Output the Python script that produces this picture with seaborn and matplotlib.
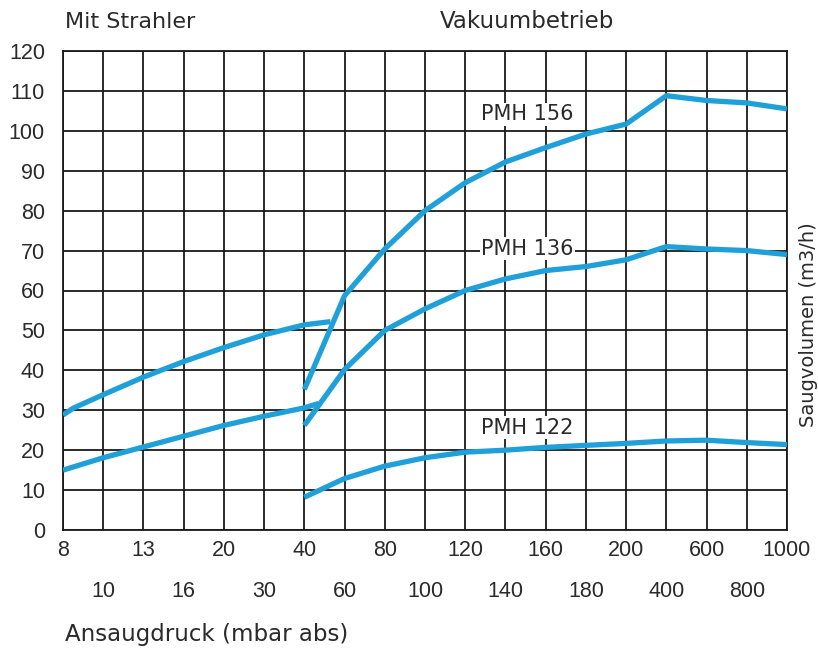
import matplotlib
matplotlib.use("Agg")
import matplotlib.pyplot as plt
import numpy as np
import pandas as pd
import seaborn as sns

# Druckstufen auf der x-Achse (gleichmaessig verteilt, nicht log)
druck_stufen = [8, 10, 13, 16, 20, 30, 40, 60, 80, 100, 120, 140, 160, 180, 200, 400, 600, 800, 1000]
druck_oben = [8, 13, 20, 40, 80, 120, 160, 200, 600, 1000]
druck_unten = [10, 16, 30, 60, 100, 140, 180, 400, 800]
y_ticks = list(range(0, 130, 10))

# Mit Strahler
strahler_druck_156 = [8, 8.5, 10, 13, 16, 20, 30, 40, 53]
strahler_156 = [28.8, 30.5, 33.9, 38.3, 42.2, 45.7, 48.9, 51.4, 52.2]
strahler_druck_136 = [8, 10, 13, 16, 20, 30, 40, 47]
strahler_136 = [15.0, 18.1, 20.8, 23.5, 26.2, 28.5, 30.6, 31.7]

# Vakuumbetrieb
vakuum_druck = [40, 60, 80, 100, 120, 140, 160, 180, 200, 400, 600, 800, 1000]
vakuum_156 = [35.2, 58.7, 70.4, 80.0, 87.0, 92.2, 95.8, 99.2, 101.7, 108.8, 107.6, 107.0, 105.5]
vakuum_136 = [26.2, 40.2, 50.0, 55.4, 60.0, 62.9, 65.0, 66.0, 67.7, 71.0, 70.4, 70.0, 69.0]
vakuum_122 = [8.2, 12.9, 16.0, 18.1, 19.5, 20.0, 20.7, 21.2, 21.7, 22.3, 22.5, 21.9, 21.4]

labels = ["PMH 156", "PMH 136", "PMH 122"]
label_pos = [(151, 104.2), (151, 70.5), (151, 25.6)]

LINE_COLOR = "#1fa0d8"
GRID_COLOR = "#1a1a1a"
TEXT_COLOR = "#2a2a2a"

sns.set_theme(style="white")
plt.rcParams["font.family"] = ["DejaVu Sans"]

idx = np.arange(len(druck_stufen))


def fwd(x):
    return np.interp(x, druck_stufen, idx)


def inv(x):
    return np.interp(x, idx, druck_stufen)


fig = plt.figure(figsize=(8.18, 6.57), dpi=100)
ax = fig.add_axes([63 / 818, 1 - 530 / 657, (787 - 63) / 818, (530 - 51) / 657])
ax.set_xscale("function", functions=(fwd, inv))

segmente = [
    (strahler_druck_156, strahler_156),
    (strahler_druck_136, strahler_136),
    (vakuum_druck, vakuum_156),
    (vakuum_druck, vakuum_136),
    (vakuum_druck, vakuum_122),
]
for xs, ys in segmente:
    df = pd.DataFrame({"druck": xs, "volumen": ys})
    sns.lineplot(data=df, x="druck", y="volumen", ax=ax, color=LINE_COLOR,
                 linewidth=3.8, estimator=None, sort=False, zorder=4,
                 solid_capstyle="butt")

ax.set_xlim(8, 1000)
ax.set_ylim(0, 120)
ax.set_xticks(druck_oben, labels=[str(v) for v in druck_oben])
ax.set_xticks(druck_unten, labels=[str(v) for v in druck_unten], minor=True)
ax.set_yticks(y_ticks)
ax.set_xlabel("")
ax.set_ylabel("")

ax.grid(which="both", axis="both", color=GRID_COLOR, linewidth=1.3)
ax.set_axisbelow(True)
for s in ax.spines.values():
    s.set_color(GRID_COLOR)
    s.set_linewidth(1.3)

ax.tick_params(axis="x", which="major", length=0, pad=7)
ax.tick_params(axis="x", which="minor", length=27, width=1.3, color=GRID_COLOR,
               direction="out", pad=10)
ax.tick_params(axis="y", length=0, pad=13)
for lab in ax.get_xticklabels(which="both") + ax.get_yticklabels():
    lab.set_fontfamily(["Liberation Sans", "DejaVu Sans"])
    lab.set_fontsize(15.5)
    lab.set_color(TEXT_COLOR)

for txt, (px, py) in zip(labels, label_pos):
    ax.text(px, py, txt, ha="center", va="center", fontsize=15, color=TEXT_COLOR,
            zorder=5, bbox=dict(facecolor="white", edgecolor="none", pad=1.0))

fig.text(65 / 818, 1 - 22 / 657, "Mit Strahler", ha="left", va="center",
         fontsize=16, color=TEXT_COLOR)
fig.text(440 / 818, 1 - 22 / 657, "Vakuumbetrieb", ha="left", va="center",
         fontsize=16.5, color=TEXT_COLOR)
fig.text(65 / 818, 1 - 635 / 657, "Ansaugdruck (mbar abs)", ha="left", va="center",
         fontsize=16.5, color=TEXT_COLOR)
fig.text(799 / 818, 1 - 325 / 657, "Saugvolumen (m3/h)", ha="left", va="center",
         rotation=90, fontsize=14, color=TEXT_COLOR)

fig.savefig("out.png", dpi=100)
